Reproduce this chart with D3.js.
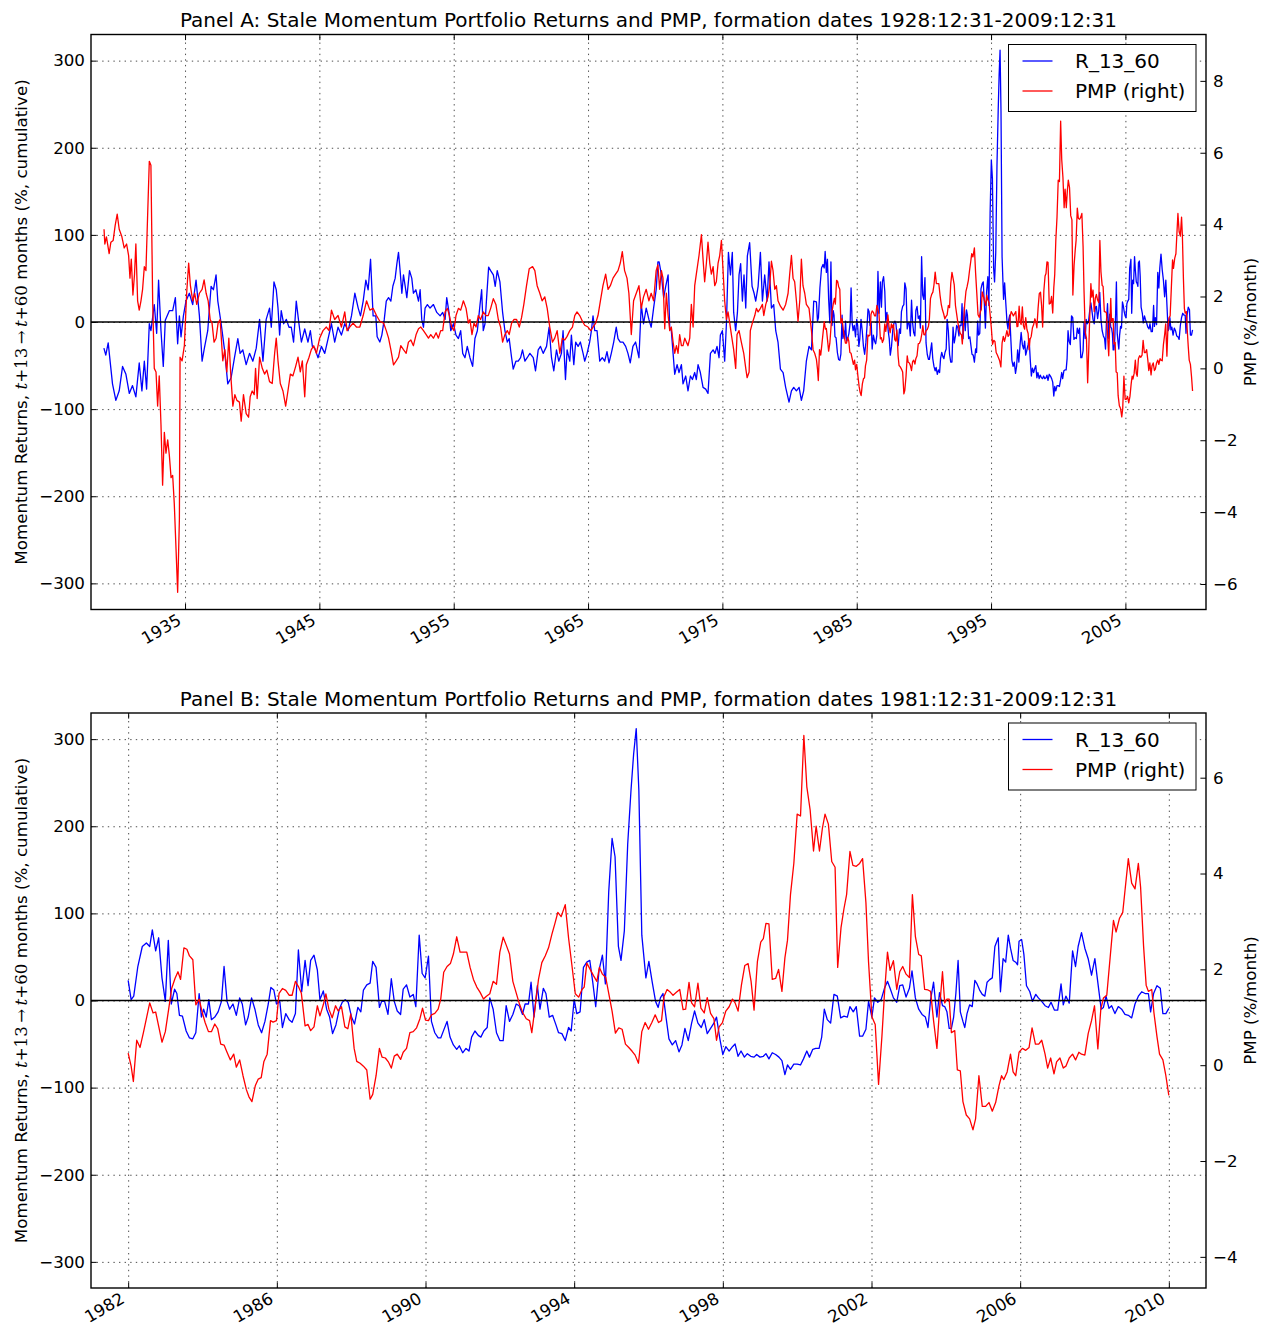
<!DOCTYPE html>
<html>
<head>
<meta charset="utf-8">
<script src="https://cdn.jsdelivr.net/npm/d3@7"></script>
<style>
body { margin: 0; background: #fff; }
svg { display: block; font-family: "DejaVu Sans", sans-serif; }
</style>
</head>
<body>
<svg id="chart" width="1263" height="1327"></svg>
<script>

//DONNEES---------------------------------------------------
//-------------------------------------------------------

// R_13_60, 1929-1981 (read on panel A), [year, % cumulative]
let rEarly = [[1928.96,-30],[1929.10,-38],[1929.28,-24],[1929.60,-71],[1929.85,-90],[1930.10,-79],[1930.35,-51],[1930.60,-60],[1930.85,-82],[1931.09,-73],[1931.34,-86],[1931.59,-47],[1931.79,-79],[1931.97,-45],[1932.14,-77],[1932.34,-2],[1932.46,-10],[1932.71,20],[1932.89,-13],[1933.03,48],[1933.21,-10],[1933.38,-51],[1933.53,2],[1933.83,13],[1934.08,13],[1934.28,28],[1934.45,-25],[1934.58,7],[1934.70,-17],[1934.88,7],[1935.07,24],[1935.32,33],[1935.57,20],[1935.82,48],[1936.07,7],[1936.27,-45],[1936.44,-30],[1936.69,-10],[1936.94,41],[1937.11,37],[1937.31,54],[1937.44,24],[1937.69,-2],[1937.94,-32],[1938.18,-71],[1938.43,-64],[1938.68,-41],[1938.93,-19],[1939.10,-36],[1939.30,-32],[1939.55,-49],[1939.80,-36],[1940.05,-45],[1940.30,-30],[1940.55,3],[1940.80,-45],[1941.04,3],[1941.29,16],[1941.42,-6],[1941.62,46],[1941.79,37],[1941.92,16],[1942.04,-15],[1942.16,13],[1942.34,-2],[1942.54,3],[1942.74,-6],[1942.91,-6],[1943.08,-23],[1943.28,24],[1943.48,-2],[1943.66,-23],[1943.91,-8],[1944.15,-23],[1944.33,-10],[1944.48,-28],[1944.65,-30],[1944.90,-41],[1945.15,-28],[1945.40,-36],[1945.65,-19],[1945.90,-2],[1946.14,-23],[1946.39,-6],[1946.64,-15],[1946.89,-2],[1947.14,-10],[1947.39,7],[1947.64,33],[1947.89,16],[1948.06,7],[1948.26,24],[1948.46,48],[1948.63,37],[1948.81,72],[1949.00,7],[1949.20,7],[1949.30,-17],[1949.50,-23],
[1949.65,-15],[1949.83,3],[1949.98,24],[1950.15,28],[1950.32,24],[1950.47,41],[1950.64,50],[1950.77,67],[1950.89,80],[1951.01,59],[1951.14,33],[1951.26,54],[1951.39,41],[1951.51,28],[1951.71,59],[1951.88,50],[1952.00,33],[1952.18,37],[1952.38,24],[1952.50,37],[1952.62,3],[1952.75,-6],[1952.87,16],[1953.04,20],[1953.24,16],[1953.49,20],[1953.74,11],[1953.99,7],[1954.18,11],[1954.36,3],[1954.48,28],[1954.65,11],[1954.78,-10],[1954.98,-2],[1955.17,-15],[1955.35,-19],[1955.52,-10],[1955.67,-36],[1955.84,-41],[1956.01,-28],[1956.21,-41],[1956.41,-51],[1956.58,-19],[1956.76,-10],[1956.96,20],[1957.08,37],[1957.20,-10],[1957.33,-2],[1957.45,28],[1957.60,63],[1957.75,59],[1957.95,54],[1958.09,41],[1958.24,59],[1958.44,46],[1958.64,11],[1958.81,-10],[1958.99,-23],[1959.13,-19],[1959.31,-41],[1959.43,-54],[1959.63,-45],[1959.80,-45],[1959.98,-41],[1960.12,-32],[1960.30,-45],[1960.47,-41],[1960.67,-36],[1960.92,-41],[1961.09,-56],[1961.29,-32],[1961.46,-28],[1961.66,-36],[1961.91,-28],[1962.10,-6],[1962.28,-41],[1962.45,-56],[1962.65,-32],[1962.82,-45],[1963.02,-36],[1963.14,-10],[1963.32,-66],[1963.44,-32],[1963.64,-45],[1963.76,-15],[1963.94,-49],[1964.08,-23],[1964.26,-28],[1964.43,-23],[1964.63,-36],[1964.75,-45],[1964.93,-36],[1965.12,-23],[1965.25,-10],[1965.37,7],[1965.50,-10],[1965.67,-10],[1965.87,-45],[1966.06,-41],[1966.24,-45],[1966.41,-34],[1966.56,-47],[1966.73,-36],[1966.91,-23],[1967.10,-6],[1967.23,-19],[1967.40,-23],[1967.60,-23],[1967.80,-28],[1967.97,-36],[1968.14,-47],[1968.34,-28],[1968.54,-23],[1968.79,-41],[1968.96,20],[1969.13,-2],[1969.33,16],[1969.53,3],[1969.70,-6],[1969.88,16],[1970.07,37],[1970.20,69],
[1970.29,69],[1970.46,54],[1970.63,28],[1970.78,41],[1970.96,54],[1971.08,-6],[1971.20,-10],[1971.33,-36],[1971.45,-60],[1971.63,-49],[1971.77,-58],[1971.95,-49],[1972.07,-71],[1972.27,-62],[1972.44,-79],[1972.62,-62],[1972.77,-66],[1972.94,-58],[1973.06,-66],[1973.19,-49],[1973.36,-58],[1973.56,-75],[1973.76,-77],[1973.93,-82],[1974.11,-36],[1974.31,-32],[1974.45,-36],[1974.60,-28],[1974.75,-41],[1974.85,-15],[1975.00,-10],[1975.17,-45],[1975.30,-2],[1975.45,80],[1975.60,54],[1975.74,80],[1975.84,11],[1975.99,-10],[1976.12,11],[1976.24,54],[1976.36,67],[1976.49,24],[1976.61,54],[1976.74,16],[1976.86,76],[1977.03,91],[1977.21,41],[1977.36,33],[1977.48,24],[1977.66,41],[1977.83,80],[1977.98,24],[1978.15,54],[1978.33,24],[1978.47,69],[1978.65,16],[1978.82,20],[1978.97,-10],[1979.14,-23],[1979.32,-54],[1979.52,-58],[1979.71,-75],[1979.96,-92],[1980.14,-79],[1980.31,-75],[1980.51,-79],[1980.71,-75],[1980.88,-90],[1981.05,-79],[1981.25,-45],[1981.45,-28],[1981.63,-32],[1981.80,24]];

// R_13_60, 1982-2010 (read on panel B)
let rLate = [[1982.00,23],[1982.08,1],[1982.15,5],[1982.26,39],[1982.38,62],[1982.49,66],[1982.58,62],[1982.65,81],[1982.74,57],[1982.82,72],[1982.91,26],[1983.00,-1],[1983.08,69],[1983.16,-4],[1983.25,13],[1983.31,8],[1983.38,-17],[1983.46,-18],[1983.56,-35],[1983.65,-43],[1983.74,-44],[1983.82,-37],[1983.91,8],[1983.97,-19],[1984.03,-10],[1984.10,-19],[1984.17,1],[1984.24,-22],[1984.33,-19],[1984.42,-13],[1984.51,-1],[1984.58,39],[1984.66,-1],[1984.73,-10],[1984.82,-4],[1984.91,-17],[1985.00,3],[1985.07,-4],[1985.16,-28],[1985.23,-19],[1985.32,3],[1985.41,-10],[1985.50,-28],[1985.59,-37],[1985.68,-24],[1985.77,-4],[1985.84,15],[1985.92,12],[1985.99,-4],[1986.08,-1],[1986.15,-31],[1986.24,-15],[1986.33,-22],[1986.41,-25],[1986.50,-15],[1986.58,58],[1986.67,10],[1986.76,46],[1986.84,17],[1986.91,46],[1987.00,52],[1987.09,35],[1987.16,1],[1987.25,11],[1987.34,-10],[1987.42,-19],[1987.50,-38],[1987.59,-28],[1987.68,-10],[1987.76,-2],[1987.84,1],[1987.92,-2],[1988.01,-19],[1988.09,-27],[1988.18,-8],[1988.26,-13],[1988.33,12],[1988.42,18],[1988.51,20],[1988.58,45],[1988.67,38],[1988.76,-8],[1988.82,-1],[1988.90,-1],[1988.99,-16],[1989.08,25],[1989.16,-1],[1989.24,-12],[1989.33,-16],[1989.40,13],[1989.49,18],[1989.58,4],[1989.67,7],[1989.74,-7],[1989.83,75],[1989.91,31],[1989.99,26],[1990.08,51],[1990.16,-24],[1990.25,-37],[1990.34,-43],[1990.41,-43],[1990.49,-34],[1990.58,-24],[1990.66,-42],[1990.75,-51],[1990.84,-56],[1990.91,-52],[1991.00,-60],[1991.09,-55],[1991.17,-58],[1991.24,-42],[1991.33,-35],[1991.42,-40],[1991.49,-42],[1991.57,-35],[1991.66,-31],[1991.73,3],[1991.82,-10],[1991.91,-37],[1992.00,-46],[1992.09,-46],[1992.17,-6],[1992.26,-24],[1992.35,-16],[1992.44,-4],[1992.52,-6],[1992.61,-16],[1992.68,-4],[1992.77,-4],[1992.84,21],[1992.92,-19],[1993.01,17],[1993.08,-10],[1993.17,14],[1993.24,8],[1993.33,-19],[1993.42,-17],[1993.51,-28],[1993.58,-37],[1993.67,-38],[1993.76,-46],[1993.85,-31],[1993.92,-35],[1994.00,1],[1994.07,-15],[1994.16,-13],[1994.25,38],[1994.34,44],[1994.42,46],[1994.50,21],[1994.58,-7],[1994.67,35],[1994.76,52],[1994.84,19],[1994.93,125],[1995.02,186],[1995.10,165],[1995.19,62],[1995.26,46],[1995.35,80],[1995.44,179],[1995.53,242],[1995.60,283],[1995.67,312],[1995.74,242],[1995.82,75],[1995.93,26],[1996.01,45],[1996.10,21],[1996.19,-1],[1996.26,-8],[1996.32,3],
[1996.39,8],[1996.48,-22],[1996.55,-44],[1996.64,-51],[1996.73,-46],[1996.82,-59],[1996.90,-51],[1996.98,-32],[1997.07,-46],[1997.16,-26],[1997.24,-12],[1997.33,-26],[1997.42,-31],[1997.50,-22],[1997.58,-38],[1997.67,-32],[1997.76,-26],[1997.83,-19],[1997.92,-44],[1998.00,-62],[1998.08,-53],[1998.17,-58],[1998.26,-53],[1998.33,-50],[1998.41,-64],[1998.49,-58],[1998.58,-65],[1998.66,-61],[1998.75,-64],[1998.84,-65],[1998.91,-62],[1999.00,-65],[1999.09,-64],[1999.16,-61],[1999.24,-67],[1999.33,-60],[1999.42,-62],[1999.51,-65],[1999.59,-69],[1999.67,-85],[1999.74,-74],[1999.82,-79],[1999.91,-73],[2000.00,-73],[2000.09,-74],[2000.17,-67],[2000.26,-58],[2000.33,-65],[2000.42,-56],[2000.50,-55],[2000.59,-55],[2000.66,-42],[2000.73,-10],[2000.81,-22],[2000.90,-26],[2000.99,7],[2001.08,5],[2001.17,-20],[2001.26,-18],[2001.35,-19],[2001.42,-7],[2001.51,-13],[2001.59,-7],[2001.68,-41],[2001.76,-41],[2001.85,-33],[2001.92,-1],[2002.01,-19],[2002.08,3],[2002.17,-2],[2002.26,1],[2002.35,14],[2002.43,22],[2002.50,14],[2002.59,3],[2002.68,-2],[2002.76,17],[2002.84,18],[2002.93,4],[2003.02,14],[2003.09,34],[2003.18,3],[2003.27,-10],[2003.36,-16],[2003.45,-19],[2003.52,-31],[2003.59,1],[2003.67,21],[2003.76,-19],[2003.83,9],
[2003.91,-6],[2003.97,-7],[2004.03,-13],[2004.09,-32],[2004.15,-32],[2004.21,-19],[2004.27,8],[2004.33,46],[2004.39,-13],[2004.46,-24],[2004.51,-31],[2004.57,-15],[2004.64,-5],[2004.71,-7],[2004.78,23],[2004.84,19],[2004.91,12],[2004.98,7],[2005.05,5],[2005.11,21],[2005.18,24],[2005.25,26],[2005.32,62],[2005.41,72],[2005.47,10],[2005.54,48],[2005.61,44],[2005.68,75],[2005.74,60],[2005.81,46],[2005.88,44],[2005.93,41],[2005.97,68],[2006.04,70],[2006.10,53],[2006.17,17],[2006.26,10],[2006.33,-1],[2006.42,7],[2006.49,3],[2006.58,-1],[2006.67,-6],[2006.76,-8],[2006.83,-2],[2006.92,-11],[2007.01,-11],[2007.10,19],[2007.16,-5],[2007.23,5],[2007.32,-3],[2007.41,57],[2007.49,39],[2007.56,62],[2007.65,78],[2007.74,60],[2007.83,48],[2007.92,29],[2008.01,48],[2008.10,17],[2008.18,-10],[2008.24,-8],[2008.31,5],[2008.39,-9],[2008.46,-6],[2008.55,-15],[2008.64,-7],[2008.73,-10],[2008.82,-16],[2008.91,-17],[2009.00,-20],[2009.09,-4],[2009.18,5],[2009.27,10],[2009.36,8],[2009.45,8],[2009.51,-13],[2009.59,8],[2009.68,17],[2009.77,14],[2009.84,-15],[2009.92,-15],[2010.00,-9]];

// PMP, 1929-1981 (read on panel A), [year, %/month]
let pmpEarly = [[1928.97,3.87],[1929.03,3.46],[1929.15,3.66],[1929.35,3.19],[1929.48,3.51],[1929.65,3.56],[1929.80,3.98],[1929.95,4.29],[1930.10,3.87],[1930.30,3.66],[1930.47,3.35],[1930.65,3.46],[1930.80,3.14],[1930.90,2.51],[1931.00,3.04],[1931.12,2.04],[1931.24,2.62],[1931.34,3.46],[1931.47,1.88],[1931.59,1.62],[1931.72,1.88],[1931.84,2.20],[1931.97,2.83],[1932.09,2.72],[1932.21,4.19],[1932.34,5.76],[1932.46,5.65],[1932.59,1.88],[1932.71,0],[1932.84,-0.1],[1932.96,-1.05],[1933.08,-0.21],[1933.21,-1.57],[1933.33,-3.25],[1933.46,-1.78],[1933.58,-2.36],[1933.71,-1.99],[1933.83,-2.41],[1933.96,-3.04],[1934.08,-2.98],[1934.20,-3.77],[1934.33,-5.03],[1934.45,-6.23],[1934.58,-4.19],[1934.63,0.31],[1934.78,0.21],[1934.95,0.63],[1935.12,2.09],[1935.27,2.93],[1935.40,2.30],[1935.57,1.88],[1935.72,2.09],[1935.87,1.78],[1936.07,2.09],[1936.27,2.20],[1936.42,2.46],[1936.57,2.09],[1936.72,1.88],[1936.87,1.36],[1937.01,1.26],[1937.16,0.73],[1937.31,0.84],[1937.46,1.26],[1937.61,1.36],[1937.81,0.21],[1937.96,0.52],[1938.11,-0.10],[1938.26,0.84],[1938.41,-0.21],[1938.56,-1.05],[1938.71,-0.73],[1938.86,-0.89],[1939.05,-0.94],[1939.18,-1.47],[1939.35,-0.73],[1939.55,-1.26],[1939.73,-1.36],[1939.85,-0.79],[1940.00,-0.63],[1940.15,-0.73],[1940.25,0],[1940.37,-0.84],[1940.55,0.31],[1940.75,0],[1940.92,-0.16],[1941.09,-0.05],[1941.29,-0.37],[1941.49,-0.42],[1941.67,0.42],[1941.79,0.84],[1941.92,0.21],[1942.09,-0.42],[1942.29,-0.63],[1942.49,-1.05],[1942.66,-0.63],[1942.84,-0.16],[1943.03,-0.21],[1943.23,0.05],[1943.41,0.31],[1943.58,-0.10],[1943.73,0.21],[1943.91,-0.79],[1944.03,0.10],[1944.23,0.31],[1944.40,0.52],[1944.58,0.63],[1944.78,0.42],[1945.02,0.84],[1945.27,1.05],[1945.52,1.15],[1945.72,1.05],[1945.90,1.62],[1946.14,1.36],[1946.39,1.47],[1946.64,1.15],[1946.89,1.57],[1947.06,1.05],[1947.26,1.15],[1947.51,1.26],[1947.76,1.15],[1948.01,1.15],[1948.26,1.47],[1948.51,1.88],[1948.76,1.62],[1949.00,1.67],[1949.25,1.47],[1949.50,1.31],
[1949.78,1.26],[1949.98,1.05],[1950.15,0.84],[1950.32,0.52],[1950.52,0.10],[1950.72,0.21],[1950.89,0.31],[1951.06,0.63],[1951.26,0.52],[1951.46,0.42],[1951.63,0.73],[1951.81,0.79],[1952.00,0.63],[1952.20,0.94],[1952.38,1.10],[1952.55,1.15],[1952.75,1.05],[1952.95,0.94],[1953.12,0.84],[1953.29,0.94],[1953.49,0.84],[1953.69,0.99],[1953.86,0.84],[1954.03,1.05],[1954.18,1.05],[1954.36,1.57],[1954.53,1.67],[1954.68,1.47],[1954.85,1.15],[1955.02,1.05],[1955.17,1.47],[1955.35,1.67],[1955.52,1.62],[1955.72,1.88],[1955.92,1.67],[1956.09,1.26],[1956.21,1.36],[1956.36,0.94],[1956.51,1.26],[1956.66,1.15],[1956.83,1.47],[1957.00,1.36],[1957.20,1.57],[1957.40,1.47],[1957.57,1.47],[1957.75,1.67],[1957.95,1.94],[1958.14,1.78],[1958.32,1.36],[1958.49,1.15],[1958.64,0.73],[1958.81,0.94],[1958.99,1.05],[1959.13,0.94],[1959.31,1.26],[1959.48,1.36],[1959.68,1.36],[1959.88,1.15],[1960.05,1.41],[1960.22,1.78],[1960.42,2.30],[1960.62,2.77],[1960.87,2.83],[1961.04,2.72],[1961.21,2.30],[1961.41,2.09],[1961.58,1.88],[1961.78,1.99],[1961.96,1.67],[1962.15,1.15],[1962.35,0.73],[1962.52,0.84],[1962.70,1.05],[1962.90,0.42],[1963.09,0.84],[1963.27,0.79],[1963.44,0.89],[1963.64,1.05],[1963.84,1.15],[1964.01,1.47],[1964.18,1.57],[1964.38,1.47],[1964.58,1.31],[1964.75,1.20],[1965.00,1.15],[1965.20,1.05],[1965.37,1.15],[1965.57,1.26],[1965.74,1.47],[1965.92,1.88],[1966.11,2.30],[1966.31,2.62],[1966.49,2.20],[1966.66,2.30],[1966.86,2.51],[1967.05,2.62],[1967.23,2.72],[1967.40,2.93],[1967.55,3.25],[1967.72,2.72],[1967.90,2.51],[1968.04,2.09],[1968.22,0.94],[1968.39,1.88],[1968.59,2.09],[1968.79,2.30],[1968.96,1.67],[1969.13,1.99],[1969.33,2.20],[1969.53,1.88],[1969.70,2.09],[1969.88,1.88],[1970.07,2.72],[1970.20,2.88],
[1970.33,2.20],[1970.46,2.72],[1970.58,2.51],[1970.71,1.10],[1970.83,2.09],[1970.96,1.47],[1971.08,1.05],[1971.20,1.15],[1971.33,0.73],[1971.45,0.42],[1971.58,0.63],[1971.70,0.42],[1971.82,0.94],[1971.95,0.63],[1972.07,0.63],[1972.20,0.84],[1972.32,0.73],[1972.44,0.63],[1972.57,0.84],[1972.69,1.78],[1972.82,1.15],[1972.94,2.30],[1973.06,2.62],[1973.26,3.14],[1973.44,3.72],[1973.56,3.04],[1973.68,2.41],[1973.81,2.93],[1973.93,3.51],[1974.06,2.93],[1974.18,2.62],[1974.31,2.83],[1974.43,2.30],[1974.55,2.41],[1974.68,2.93],[1974.80,3.14],[1974.93,3.56],[1975.05,2.72],[1975.17,1.88],[1975.30,1.36],[1975.42,1.57],[1975.55,1.26],[1975.67,0.94],[1975.84,0.52],[1975.99,0],[1976.09,0.94],[1976.24,1.05],[1976.41,0.73],[1976.59,0.42],[1976.74,0],[1976.84,-0.26],[1976.99,-0.10],[1977.08,1.05],[1977.23,1.26],[1977.41,1.47],[1977.53,1.67],[1977.66,1.57],[1977.83,1.67],[1977.98,1.78],[1978.08,1.47],[1978.23,1.78],[1978.40,1.99],[1978.52,2.30],[1978.65,2.98],[1978.77,2.72],[1978.90,2.20],[1979.02,2.30],[1979.14,1.88],[1979.32,1.73],[1979.52,1.62],[1979.71,1.78],[1979.89,2.09],[1980.01,2.62],[1980.14,3.14],[1980.26,2.51],[1980.38,2.41],[1980.51,1.88],[1980.63,1.31],[1980.76,1.88],[1980.88,3.04],[1981.00,2.30],[1981.13,2.09],[1981.25,1.78],[1981.45,1.67],[1981.63,1.05],[1981.75,0.52],[1981.87,0.42]];

// PMP, 1982-2010 (read on panel B)
let pmpLate = [[1982.00,0.25],[1982.08,-0.02],[1982.14,-0.34],[1982.23,0.52],[1982.32,0.37],[1982.41,0.68],[1982.50,1.01],[1982.58,1.30],[1982.67,1.09],[1982.74,1.11],[1982.83,0.78],[1982.91,0.48],[1983.00,0.70],[1983.09,1.17],[1983.17,1.60],[1983.26,1.81],[1983.34,1.95],[1983.41,1.79],[1983.50,2.45],[1983.58,2.42],[1983.65,2.28],[1983.74,2.20],[1983.82,1.26],[1983.91,1.38],[1983.99,1.11],[1984.07,0.89],[1984.16,0.70],[1984.24,0.70],[1984.33,0.86],[1984.41,0.76],[1984.49,0.44],[1984.58,0.42],[1984.66,0.27],[1984.75,0.11],[1984.84,0.23],[1984.91,-0.04],[1985.00,0.11],[1985.09,-0.22],[1985.18,-0.51],[1985.25,-0.66],[1985.33,-0.76],[1985.42,-0.43],[1985.50,-0.29],[1985.58,-0.26],[1985.65,0.07],[1985.74,0.23],[1985.83,0.93],[1985.90,0.90],[1985.99,0.93],[1986.06,1.50],[1986.15,1.60],[1986.24,1.56],[1986.33,1.46],[1986.41,1.46],[1986.50,1.75],[1986.58,1.64],[1986.66,1.50],[1986.76,0.82],[1986.84,0.85],[1986.91,0.72],[1987.00,0.80],[1987.09,1.24],[1987.16,1.03],[1987.25,1.26],[1987.32,1.49],[1987.40,1.17],[1987.49,0.99],[1987.58,1.24],[1987.65,1.13],[1987.74,1.22],[1987.83,0.80],[1987.91,0.76],[1987.99,1.07],[1988.08,0.35],[1988.15,0.08],[1988.24,0.04],[1988.33,-0.02],[1988.42,-0.10],[1988.51,-0.71],[1988.58,-0.61],[1988.67,-0.22],[1988.76,0.35],[1988.83,0.17],[1988.92,0.15],[1989.00,0.07],[1989.08,-0.06],[1989.16,0.19],[1989.24,0.23],[1989.33,0.12],[1989.40,0.27],[1989.49,0.35],[1989.58,0.68],[1989.67,0.70],[1989.76,0.78],[1989.85,0.97],[1989.92,1.19],[1990.00,0.94],[1990.08,0.93],[1990.16,1.05],[1990.25,1.08],[1990.34,1.17],[1990.41,1.38],[1990.49,1.94],[1990.58,2.06],[1990.67,2.12],[1990.75,2.32],[1990.84,2.68],[1990.93,2.36],[1991.02,2.36],[1991.11,2.36],[1991.20,2.04],[1991.29,1.79],[1991.38,1.63],[1991.47,1.52],[1991.56,1.38],[1991.64,1.44],[1991.73,1.49],[1991.82,1.75],[1991.91,1.69],[1992.00,2.36],[1992.09,2.67],[1992.18,2.49],[1992.26,2.32],[1992.35,1.75],[1992.44,1.51],[1992.53,1.27],[1992.62,1.09],[1992.71,0.97],[1992.80,0.93],[1992.86,0.68],[1992.95,1.22],[1993.04,1.79],[1993.13,2.14],[1993.22,2.28],[1993.31,2.45],[1993.40,2.73],[1993.49,2.98],[1993.56,3.19],[1993.65,3.10],[1993.76,3.35],[1993.85,2.65],[1993.94,2.08],[1994.03,1.49],[1994.12,1.42],[1994.21,1.58],[1994.27,1.63],[1994.34,2.13],[1994.43,2.00],[1994.52,1.87],[1994.61,1.75],[1994.68,2.04],[1994.76,1.90],[1994.85,1.83],[1994.93,1.50],[1995.02,1.13],[1995.11,0.67],[1995.20,0.78],[1995.29,0.75],[1995.38,0.44],[1995.47,0.37],[1995.56,0.29],[1995.64,0.21],[1995.73,0.04],[1995.82,0.70],[1995.91,0.89],[1996.00,0.75],[1996.09,0.89],[1996.18,1.05],[1996.27,0.89],
[1996.35,0.93],[1996.42,1.44],[1996.50,1.58],[1996.59,1.52],[1996.66,1.46],[1996.75,1.52],[1996.84,1.58],[1996.93,1.16],[1997.00,1.17],[1997.09,1.73],[1997.16,1.30],[1997.24,1.22],[1997.33,1.71],[1997.41,1.19],[1997.50,1.09],[1997.58,1.41],[1997.67,1.08],[1997.76,0.97],[1997.83,0.52],[1997.90,0.80],[1997.99,0.89],[1998.08,1.13],[1998.17,1.22],[1998.26,1.38],[1998.33,1.30],[1998.41,1.13],[1998.50,1.67],[1998.59,2.08],[1998.68,2.12],[1998.76,1.75],[1998.84,1.15],[1998.93,2.16],[1999.02,2.57],[1999.09,2.64],[1999.16,2.96],[1999.24,2.95],[1999.33,1.79],[1999.42,1.81],[1999.50,2.00],[1999.59,1.54],[1999.67,2.24],[1999.74,2.61],[1999.82,3.56],[1999.91,4.21],[2000.00,5.24],[2000.09,5.20],[2000.18,6.88],[2000.26,5.81],[2000.35,5.32],[2000.44,4.47],[2000.51,4.99],[2000.60,4.47],[2000.68,4.95],[2000.75,5.24],[2000.84,5.03],[2000.93,4.25],[2001.02,4.13],[2001.09,2.04],[2001.18,2.87],[2001.26,3.27],[2001.33,3.56],[2001.42,4.46],[2001.50,4.17],[2001.59,4.15],[2001.68,4.21],[2001.76,4.31],[2001.85,3.39],[2001.92,2.16],[2002.01,1.01],[2002.10,0.85],[2002.19,-0.40],[2002.28,0.60],[2002.35,1.50],[2002.43,2.36],[2002.50,1.98],[2002.59,2.18],[2002.68,1.58],[2002.76,1.95],[2002.84,2.06],[2002.93,1.90],[2003.02,1.83],[2003.10,3.56],[2003.18,2.69],[2003.27,2.31],[2003.34,2.28],[2003.43,1.58],[2003.52,1.57],[2003.59,1.54],[2003.67,0.93],[2003.76,0.35],[2003.83,1.17],
[2003.91,1.95],[2003.97,1.30],[2004.03,1.38],[2004.09,1.38],[2004.15,0.68],[2004.24,0.72],[2004.31,-0.10],[2004.39,-0.12],[2004.46,-0.76],[2004.55,-1.04],[2004.64,-1.12],[2004.73,-1.35],[2004.80,-1.12],[2004.89,-0.22],[2004.98,-0.86],[2005.07,-0.86],[2005.16,-0.78],[2005.25,-0.96],[2005.34,-0.78],[2005.43,-0.43],[2005.50,-0.22],[2005.56,-0.30],[2005.65,-0.14],[2005.74,0.23],[2005.81,-0.14],[2005.88,-0.22],[2005.97,0.27],[2006.06,0.35],[2006.15,0.31],[2006.24,0.37],[2006.32,0.78],[2006.41,0.44],[2006.50,0.44],[2006.58,0.52],[2006.67,0.23],[2006.74,-0.06],[2006.82,0.15],[2006.91,-0.18],[2006.98,0.07],[2007.07,0.15],[2007.16,-0.06],[2007.23,-0.02],[2007.32,0.15],[2007.41,0.23],[2007.49,0.11],[2007.58,0.27],[2007.65,0.23],[2007.74,0.21],[2007.83,0.66],[2007.92,0.93],[2008.00,1.24],[2008.09,0.34],[2008.17,1.17],[2008.24,1.40],[2008.33,1.46],[2008.42,2.24],[2008.51,3.02],[2008.58,2.78],[2008.67,3.06],[2008.76,3.19],[2008.82,3.64],[2008.91,4.31],[2009.00,3.80],[2009.09,3.68],[2009.18,4.21],[2009.24,3.72],[2009.32,2.49],[2009.39,1.67],[2009.45,1.54],[2009.54,1.58],[2009.60,1.09],[2009.68,0.60],[2009.75,0.23],[2009.84,0.11],[2009.92,-0.22],[2010.00,-0.63]];

// Ticks
let yearTicksA = [1935, 1945, 1955, 1965, 1975, 1985, 1995, 2005];
let yearTicksB = [1982, 1986, 1990, 1994, 1998, 2002, 2006, 2010];
let leftTicks = [-300, -200, -100, 0, 100, 200, 300];
let rightTicksA = [-6, -4, -2, 0, 2, 4, 6, 8];
let rightTicksB = [-4, -2, 0, 2, 4, 6];

let titleA = "Panel A: Stale Momentum Portfolio Returns and PMP, formation dates 1928:12:31-2009:12:31";
let titleB = "Panel B: Stale Momentum Portfolio Returns and PMP, formation dates 1981:12:31-2009:12:31";

let rAll = rEarly.concat(rLate);
let pmpAll = pmpEarly.concat(pmpLate);


//GRAPHIQUES--------------------------------------------
//-------------------------------------------------------

let svg = d3.select("#chart");
let left = 91, right = 1206, h = 575;
let tickLen = 5.6;
let fontTick = 16.7;

let panels = [
  {top: 34.5, title: titleA, xDomain: [1928, 2011], xTicks: yearTicksA, rDomain: [-6.71, 9.29], rTicks: rightTicksA, start: 1900},
  {top: 713, title: titleB, xDomain: [1981, 2011], xTicks: yearTicksB, rDomain: [-4.65, 7.35], rTicks: rightTicksB, start: 1981.99}
];

panels.forEach(function(p, i) {
  let bottom = p.top + h;
  let x = d3.scaleLinear().domain(p.xDomain).range([left, right]);
  let yL = d3.scaleLinear().domain([-330, 330]).range([bottom, p.top]);
  let yR = d3.scaleLinear().domain(p.rDomain).range([bottom, p.top]);

  let g = svg.append("g").attr("class", "panel" + i);

  g.append("clipPath").attr("id", "clip" + i)
    .append("rect").attr("x", left).attr("y", p.top).attr("width", right - left).attr("height", h);

  //Grille pointillée
  g.append("g")
    .attr("transform", "translate(0," + bottom + ")")
    .call(d3.axisBottom(x).tickValues(p.xTicks).tickSize(-h).tickFormat(""))
    .call(function(s) { s.select(".domain").remove(); });
  g.append("g")
    .attr("transform", "translate(" + left + ",0)")
    .call(d3.axisLeft(yL).tickValues(leftTicks).tickSize(-(right - left)).tickFormat(""))
    .call(function(s) { s.select(".domain").remove(); });
  g.selectAll("g.tick line")
    .attr("stroke", "#000")
    .attr("stroke-width", 0.7)
    .attr("stroke-dasharray", "1.4,4.2");

  //Courbes
  let lineL = d3.line().x(function(d) { return x(d[0]); }).y(function(d) { return yL(d[1]); });
  let lineR = d3.line().x(function(d) { return x(d[0]); }).y(function(d) { return yR(d[1]); });
  let plot = g.append("g").attr("clip-path", "url(#clip" + i + ")");

  plot.append("path")
    .datum(rAll.filter(function(d) { return d[0] >= p.start; }))
    .attr("d", lineL)
    .attr("fill", "none").attr("stroke", "#0000ff").attr("stroke-width", 1.3)
    .attr("stroke-linejoin", "round");

  plot.append("line")
    .attr("x1", left).attr("x2", right)
    .attr("y1", yL(0)).attr("y2", yL(0))
    .attr("stroke", "#000").attr("stroke-width", 1.4);

  plot.append("path")
    .datum(pmpAll.filter(function(d) { return d[0] >= p.start; }))
    .attr("d", lineR)
    .attr("fill", "none").attr("stroke", "#ff0000").attr("stroke-width", 1.3)
    .attr("stroke-linejoin", "round");

  //Axes (graduations vers l'intérieur)
  let axB = g.append("g")
    .attr("transform", "translate(0," + bottom + ")")
    .call(d3.axisBottom(x).tickValues(p.xTicks).tickSizeInner(-tickLen).tickSizeOuter(0).tickFormat(d3.format("d")));
  axB.selectAll("text")
    .attr("y", 0).attr("dy", null)
    .attr("text-anchor", "end")
    .attr("transform", "translate(-3,14) rotate(-30)");

  g.append("g")
    .attr("transform", "translate(0," + p.top + ")")
    .call(d3.axisTop(x).tickValues(p.xTicks).tickSizeInner(-tickLen).tickSizeOuter(0).tickFormat(""));

  g.append("g")
    .attr("transform", "translate(" + left + ",0)")
    .call(d3.axisLeft(yL).tickValues(leftTicks).tickSizeInner(-tickLen).tickSizeOuter(0).tickPadding(6).tickFormat(d3.format("d")));

  g.append("g")
    .attr("transform", "translate(" + right + ",0)")
    .call(d3.axisRight(yR).tickValues(p.rTicks).tickSizeInner(-tickLen).tickSizeOuter(0).tickPadding(7).tickFormat(d3.format("d")));

  g.selectAll(".domain").remove();
  g.selectAll("g[font-size]")
    .attr("font-size", fontTick)
    .attr("font-family", "DejaVu Sans, sans-serif");
  g.selectAll("g.tick line:not([stroke-dasharray])")
    .attr("stroke", "#000").attr("stroke-width", 1);
  g.selectAll("g.tick text").attr("fill", "#000");

  //Cadre
  g.append("rect")
    .attr("x", left).attr("y", p.top)
    .attr("width", right - left).attr("height", h)
    .attr("fill", "none").attr("stroke", "#000").attr("stroke-width", 1.4);

  //Titre
  g.append("text")
    .attr("x", (left + right) / 2).attr("y", p.top - 7.5)
    .attr("text-anchor", "middle")
    .attr("font-size", 20)
    .text(p.title);

  //Label gauche avec partie mathématique
  let yMid = p.top + h / 2;
  let lab = g.append("text")
    .attr("transform", "translate(27," + yMid + ") rotate(-90)")
    .attr("text-anchor", "middle")
    .attr("font-size", 16.7);
  lab.append("tspan").text("Momentum Returns, ");
  lab.append("tspan").attr("font-family", "DejaVu Serif, serif").attr("font-style", "italic").text("t");
  lab.append("tspan").attr("font-family", "DejaVu Serif, serif").text("+13\u2009\u2192\u2009");
  lab.append("tspan").attr("font-family", "DejaVu Serif, serif").attr("font-style", "italic").text("t");
  lab.append("tspan").attr("font-family", "DejaVu Serif, serif").text("+60");
  lab.append("tspan").text(" months (%, cumulative)");

  //Label droite
  g.append("text")
    .attr("transform", "translate(1256," + yMid + ") rotate(-90)")
    .attr("text-anchor", "middle")
    .attr("font-size", 16.7)
    .text("PMP (%/month)");

  //Légende
  let lg = g.append("g").attr("transform", "translate(1008.5," + (p.top + 10) + ")");
  lg.append("rect")
    .attr("width", 187.5).attr("height", 67)
    .attr("fill", "#fff").attr("stroke", "#000").attr("stroke-width", 1);
  let items = [{label: "R_13_60", color: "#0000ff", y: 16.5}, {label: "PMP (right)", color: "#ff0000", y: 46.5}];
  items.forEach(function(it) {
    lg.append("line")
      .attr("x1", 14).attr("x2", 44).attr("y1", it.y).attr("y2", it.y)
      .attr("stroke", it.color).attr("stroke-width", 1.3);
    lg.append("text")
      .attr("x", 66.5).attr("y", it.y + 7.3)
      .attr("font-size", 20)
      .text(it.label);
  });
});

</script>
</body>
</html>
